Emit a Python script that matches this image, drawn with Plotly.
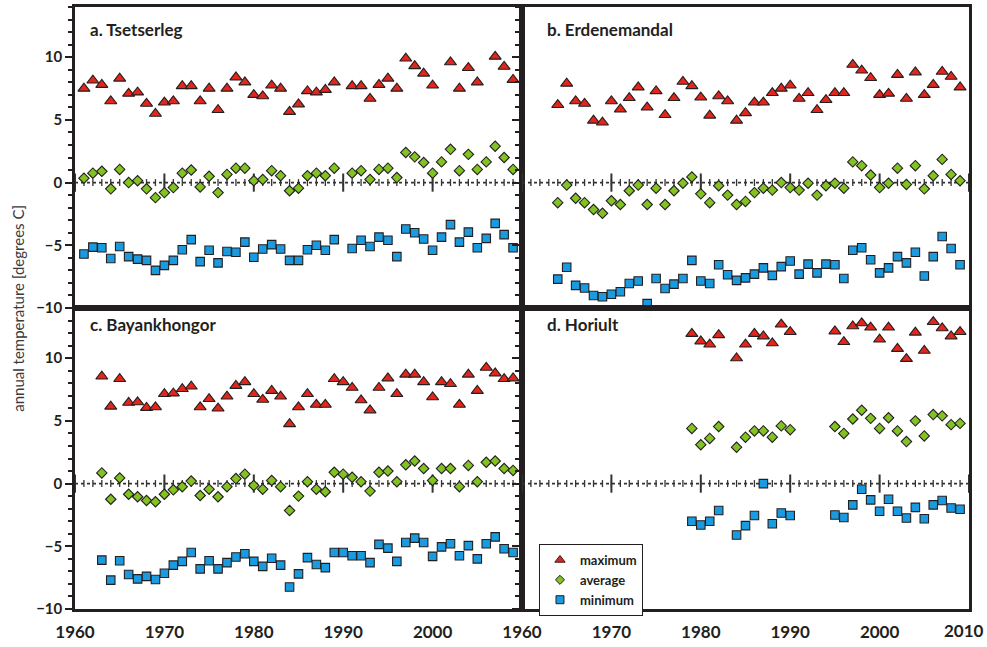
import plotly.graph_objects as go

# ---------------- data ----------------
years_a = list(range(1961, 1990)) + list(range(1991, 2010))
max_a = [7.5, 8.15, 7.8, 6.5, 8.3, 7.1, 7.2, 6.3, 5.5, 6.4, 6.5, 7.7, 7.7, 6.5, 7.5, 5.8, 7.5, 8.4, 8.0,
         7.0, 6.9, 7.75, 7.5, 5.65, 6.25, 7.3, 7.2, 7.4, 8.0,
         7.7, 7.7, 6.7, 7.8, 8.3, 7.5, 9.9, 9.3, 8.7, 7.75, None, 9.6, 7.5, 9.15, 8.0, None, 10.05, 9.25, 8.2]
avg_a = [0.35, 0.75, 0.9, -0.5, 1.05, 0.0, 0.15, -0.5, -1.2, -0.8, -0.4, 0.75, 1.0, -0.35, 0.5, -0.8, 0.65,
         1.15, 1.15, 0.15, 0.25, 0.95, 0.55, -0.65, -0.45, 0.55, 0.75, 0.55, 1.15,
         0.75, 0.95, 0.25, 1.05, 1.15, 0.4, 2.4, 2.05, 1.6, 0.75, 1.65, 2.65, 0.95, 2.25, 1.05, 1.65, 2.9, 2.0, 1.05]
min_a = [-5.7, -5.15, -5.2, -6.05, -5.1, -5.9, -6.1, -6.2, -7.0, -6.6, -6.2, -5.35, -4.55, -6.3, -5.4, -6.4,
         -5.5, -5.55, -4.75, -5.95, -5.3, -4.95, -5.3, -6.2, -6.2, -5.35, -5.0, -5.4, -4.55,
         -5.25, -4.6, -5.1, -4.35, -4.6, -5.9, -3.7, -4.0, -4.5, -5.4, -4.35, -3.35, -4.75, -3.95, -5.2, -4.45,
         -3.25, -4.15, -5.2]

years_b = list(range(1964, 2010))
max_b = [6.2, 7.9, 6.5, 6.3, 4.95, 4.8, 6.5, 5.85, 6.75, 7.6, 6.0, 7.3, 5.4, 6.75, 8.05, 7.7, 6.8, 5.35, 6.9,
         6.5, 4.95, 5.55, 6.4, 6.4, 7.15, 7.5, 7.75, 6.7, 7.15, 5.8, 6.6, 7.15, 7.15, 9.4, 8.95, 8.35, 7.0,
         7.1, 8.6, 6.7, 8.8, 7.0, 7.8, 8.85, 8.45, 7.6]
avg_b = [-1.6, -0.2, -1.25, -1.6, -2.15, -2.45, -1.45, -1.75, -0.65, -0.2, -1.75, -0.45, -1.75, -0.65, -0.05,
         0.45, -0.9, -1.6, -0.25, -1.0, -1.75, -1.5, -0.8, -0.45, -0.6, 0.0, -0.4, -0.6, -0.05, -1.0, -0.25,
         -0.05, -0.45, 1.65, 1.35, 0.6, -0.4, -0.05, 1.15, -0.15, 1.35, -0.5, 0.55, 1.85, 0.65, 0.15]
min_b = [-7.7, -6.75, -8.2, -8.4, -9.0, -9.1, -8.9, -8.7, -8.05, -7.85, -9.65, -7.65, -8.45, -8.1, -7.65,
         -6.2, -7.85, -8.05, -6.55, -7.35, -7.8, -7.6, -7.3, -6.8, -7.4, -6.7, -6.25, -7.3, -6.5, -7.2, -6.5,
         -6.55, -7.65, -5.4, -5.2, -6.15, -7.2, -6.8, -5.9, -6.4, -5.55, -7.45, -5.9, -4.3, -5.25, -6.55]

years_c = list(range(1963, 2010))
max_c = [8.55, 6.15, 8.35, 6.45, 6.5, 6.05, 6.1, 7.15, 7.2, 7.55, 7.75, 6.1, 6.75, 6.0, 6.95, 7.8, 8.1, 7.15,
         6.7, 7.4, 6.95, 4.75, 6.1, 7.15, 6.3, 6.3, 8.35, 8.1, 7.65, 6.65, 5.85, 7.65, 8.4, 7.15, 8.7, 8.7,
         8.1, 6.9, 8.1, 7.95, 6.3, 8.7, 7.4, 9.25, 8.8, 8.35, 8.4]
avg_c = [0.85, -1.25, 0.45, -0.85, -1.05, -1.35, -1.45, -0.85, -0.5, -0.25, 0.2, -0.95, -0.45, -1.05, -0.25,
         0.4, 0.75, -0.15, -0.45, 0.25, -0.25, -2.15, -1.0, 0.15, -0.45, -0.65, 0.9, 0.75, 0.5, 0.15, -0.6,
         0.9, 1.0, 0.15, 1.5, 1.8, 1.2, 0.25, 1.2, 1.2, -0.25, 1.45, 0.15, 1.7, 1.8, 1.2, 1.05]
min_c = [-6.1, -7.7, -6.15, -7.25, -7.6, -7.4, -7.65, -7.15, -6.5, -6.2, -5.5, -6.8, -6.15, -6.8, -6.3, -5.85,
         -5.6, -6.2, -6.6, -5.95, -6.5, -8.25, -7.2, -5.9, -6.45, -6.7, -5.5, -5.5, -5.75, -5.75, -6.3, -4.85,
         -5.15, -6.2, -4.7, -4.35, -4.7, -5.8, -5.05, -4.8, -5.75, -4.95, -6.0, -4.8, -4.25, -5.2, -5.5]

years_d = [1979, 1980, 1981, 1982] + list(range(1984, 1991)) + list(range(1995, 2010))
max_d = [11.95, 11.35, 11.1, 11.85, 10.0, 11.1, 11.95, 11.75, 11.2, 12.7, 12.1,
         12.15, 11.3, 12.55, 12.8, 12.45, 11.5, 12.45, 10.75, 9.95, 12.05, 10.6, 12.9, 12.4, 11.75, 12.1]
avg_d = [4.4, 3.1, 3.6, 4.55, 2.9, 3.7, 4.2, 4.2, 3.7, 4.6, 4.3,
         4.55, 4.0, 5.15, 5.85, 5.2, 4.4, 5.25, 4.2, 3.35, 5.0, 3.8, 5.5, 5.4, 4.7, 4.8]
min_d = [-3.0, -3.3, -3.0, -2.15, -4.1, -3.35, -2.55, 0.0, -3.2, -2.35, -2.55,
         -2.5, -2.7, -1.7, -0.45, -1.3, -2.2, -1.25, -2.2, -2.75, -1.9, -2.8, -1.7, -1.35, -1.95, -2.05]

panel_titles = ["a. Tsetserleg", "b. Erdenemandal", "c. Bayankhongor", "d. Horiult"]
series_names = ["maximum", "average", "minimum"]
zero_years = list(range(1960, 2011))
zero_decades = list(range(1960, 2011, 10))
left_ticks = [1960, 1970, 1980, 1990, 2000]
right_ticks = [1960, 1970, 1980, 1990, 2000]
last_tick = "2010"
y_ticks = [-10, -5, 0, 5, 10]

# ---------------- style ----------------
RED, GREEN, BLUE = "#e3261c", "#82c222", "#1a9be0"
EDGE = "#231f20"
FONT = "Lato, Open Sans, sans-serif"

fig = go.Figure()

panels = [
    ("x", "y", years_a, max_a, avg_a, min_a),
    ("x2", "y2", years_b, max_b, avg_b, min_b),
    ("x3", "y3", years_c, max_c, avg_c, min_c),
    ("x4", "y4", years_d, max_d, avg_d, min_d),
]

for xa, ya, yrs, mx, av, mn in panels:
    # dotted zero line with yearly ticks
    fig.add_trace(go.Scatter(
        x=zero_years, y=[0] * len(zero_years), xaxis=xa, yaxis=ya, mode="lines+markers",
        line=dict(color="#333333", width=1.6, dash="dot"),
        marker=dict(symbol="line-ns", size=5, line=dict(color="#333333", width=1.3)),
        showlegend=False, hoverinfo="skip"))
    fig.add_trace(go.Scatter(
        x=zero_decades, y=[0] * len(zero_decades), xaxis=xa, yaxis=ya, mode="markers",
        marker=dict(symbol="line-ns", size=13, line=dict(color="#333333", width=2)),
        showlegend=False, hoverinfo="skip"))
    fig.add_trace(go.Scatter(
        x=yrs, y=mx, xaxis=xa, yaxis=ya, mode="markers", cliponaxis=False, showlegend=False,
        marker=dict(symbol="triangle-up", size=10.5, color=RED, line=dict(color=EDGE, width=1.1))))
    fig.add_trace(go.Scatter(
        x=yrs, y=av, xaxis=xa, yaxis=ya, mode="markers", cliponaxis=False, showlegend=False,
        marker=dict(symbol="diamond", size=8, color=GREEN, line=dict(color=EDGE, width=1.1))))
    fig.add_trace(go.Scatter(
        x=yrs, y=mn, xaxis=xa, yaxis=ya, mode="markers", cliponaxis=False, showlegend=False,
        marker=dict(symbol="square", size=8.5, color=BLUE, line=dict(color=EDGE, width=1.1))))

# legend-only entries
for name, sym, col, sz in zip(series_names, ["triangle-up", "diamond", "square"],
                              [RED, GREEN, BLUE], [9, 7, 8]):
    fig.add_trace(go.Scatter(x=[None], y=[None], xaxis="x4", yaxis="y4", mode="markers", name=name,
                             marker=dict(symbol=sym, size=sz, color=col, line=dict(color=EDGE, width=1))))

frame = dict(showline=True, linecolor=EDGE, linewidth=2.5, mirror=True, showgrid=False, zeroline=False,
             automargin=False)
xcommon = dict(range=[1960, 2010], ticks="", **frame)
ycommon = dict(range=[-10, 14], tickvals=y_ticks, ticks="outside", ticklen=7, tickwidth=2,
               tickcolor=EDGE,
               minor=dict(dtick=1, ticks="outside", ticklen=4, tickwidth=1.5, tickcolor=EDGE),
               **frame)

xlab = dict(family=FONT, size=17, color=EDGE, weight="bold")

fig.update_layout(
    width=987, height=647,
    margin=dict(l=75, r=18, t=7, b=38),
    paper_bgcolor="white", plot_bgcolor="white",
    font=dict(family=FONT, color=EDGE),
    xaxis=dict(domain=[0, 0.5], anchor="y", showticklabels=False, **xcommon),
    xaxis2=dict(domain=[0.5, 1], anchor="y2", showticklabels=False, **xcommon),
    xaxis3=dict(domain=[0, 0.5], anchor="y3", tickvals=left_ticks, tickfont=xlab,
                ticklabelstandoff=6, **xcommon),
    xaxis4=dict(domain=[0.5, 1], anchor="y4", tickvals=right_ticks, tickfont=xlab,
                ticklabelstandoff=6, **xcommon),
    yaxis=dict(domain=[0.5, 1], anchor="x",
               tickfont=dict(family=FONT, size=15, color=EDGE, weight="bold"), **ycommon),
    yaxis2=dict(domain=[0.5, 1], anchor="x2", showticklabels=False, **ycommon),
    yaxis3=dict(domain=[0, 0.5], anchor="x3",
                tickfont=dict(family=FONT, size=15, color=EDGE, weight="bold"), **ycommon),
    yaxis4=dict(domain=[0, 0.5], anchor="x4", showticklabels=False, **ycommon),
    showlegend=True,
    legend=dict(x=0.519, y=0.108, xanchor="left", yanchor="top", bgcolor="white",
                bordercolor=EDGE, borderwidth=1, tracegroupgap=0,
                font=dict(family=FONT, size=13, color=EDGE, weight="bold")),
)

# last x label at the right edge (kept inside the page)
fig.add_annotation(text=last_tick, xref="paper", yref="paper", x=1.019, y=0, xanchor="right",
                   yanchor="top", yshift=-9, showarrow=False, font=xlab)

# panel titles
title_pos = [(0.0145, 0.962), (0.5257, 0.962), (0.0145, 0.4734), (0.5257, 0.4734)]
for txt, (px, py) in zip(panel_titles, title_pos):
    fig.add_annotation(text=txt, xref="paper", yref="paper", x=px, y=py, xanchor="left",
                       yanchor="middle", showarrow=False,
                       font=dict(family=FONT, size=17, color=EDGE, weight="bold"))

# y-axis title
fig.add_annotation(text="annual temperature [degrees C]", xref="paper", yref="paper",
                   x=-0.064, y=0.5, xanchor="center", yanchor="middle", textangle=-90,
                   showarrow=False, font=dict(family=FONT, size=15, color="#3a3a3a"))

fig.write_html("out.html")
